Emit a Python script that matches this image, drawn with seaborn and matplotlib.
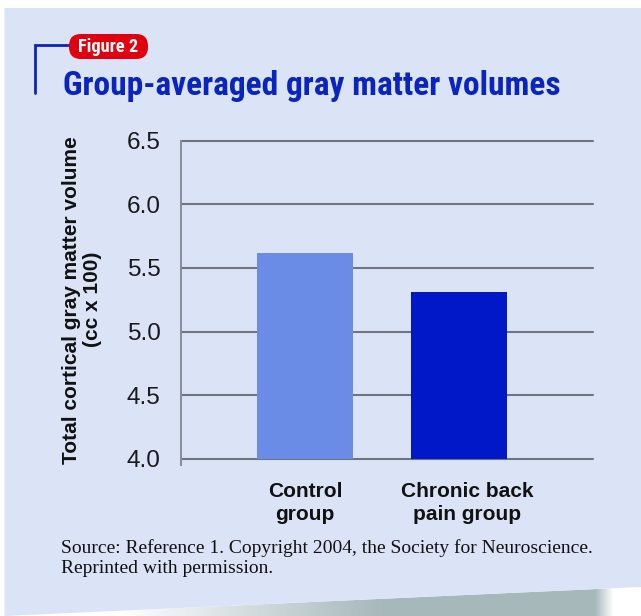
import numpy as np
import pandas as pd
import matplotlib
matplotlib.use("Agg")
import matplotlib.pyplot as plt
import matplotlib.transforms as mtransforms
from matplotlib.patches import Polygon, FancyBboxPatch
import seaborn as sns

# ---- data ----
groups = ["Control\ngroup", "Chronic back\npain group"]
volumes = [5.62, 5.31]
yticks = [4.0, 4.5, 5.0, 5.5, 6.0, 6.5]
bar_colors = ["#6a8ce6", "#0018c8"]

title = "Group-averaged gray matter volumes"
badge = "Figure 2"
ylabel = "Total cortical gray matter volume\n(cc x 100)"
source1 = "Source: Reference 1. Copyright 2004, the Society for Neuroscience."
source2 = "Reprinted with permission."

sns.set_theme(style="white")
plt.rcParams["font.family"] = ["Liberation Sans", "DejaVu Sans"]

COND = ["Roboto Condensed", "DejaVu Sans Condensed", "Liberation Sans", "DejaVu Sans"]

W, H = 641, 616
fig = plt.figure(figsize=(W / 100, H / 100), dpi=100, facecolor="white")

PANEL = "#dbe3f6"
BLUE = "#0a24c0"

# ---- background panel & shadow (pixel coordinates) ----
bg = fig.add_axes([0, 0, 1, 1], zorder=-10)
bg.set_xlim(0, W)
bg.set_ylim(H, 0)
bg.axis("off")

xs = np.linspace(0, W, 400)
alpha = np.clip((xs - 120) / 260, 0, 1) * np.clip((614 - xs) / 18, 0, 1)
img = np.zeros((1, len(xs), 4))
img[..., 0] = 0.655
img[..., 1] = 0.722
img[..., 2] = 0.737
img[..., 3] = alpha
im = bg.imshow(img, extent=(0, W, H, 580), aspect="auto", interpolation="bilinear", zorder=0)
shadow_clip = Polygon([(4.5, 616), (W, 587), (W, H), (4.5, H)], closed=True, transform=bg.transData)
im.set_clip_path(shadow_clip)

panel = Polygon([(4.5, 8), (W, 8), (W, 587), (4.5, 616)], closed=True,
                facecolor=PANEL, edgecolor="none", zorder=1)
bg.add_patch(panel)

# bracket line
bg.plot([35, 35, 72], [93, 45, 45], color=BLUE, lw=2, solid_joinstyle="miter", zorder=2)
# red badge
pill = FancyBboxPatch((69, 34), 79, 25, boxstyle="round,pad=0,rounding_size=12",
                      facecolor="#e0000e", edgecolor="none", zorder=3)
bg.add_patch(pill)
bg.text(108.5, 47, badge, color="white", fontsize=13.2, fontweight="bold",
        family=COND, ha="center", va="center", zorder=4)

# title
fig.text(63 / W, 1 - 95 / H, title, color=BLUE, fontsize=24, fontweight="bold",
         family=COND, ha="left", va="baseline")

# source
fig.text(61 / W, 1 - 553 / H, source1, color="#111111", fontsize=14,
         family=["Liberation Serif", "DejaVu Serif"], ha="left", va="baseline")
fig.text(61 / W, 1 - 573 / H, source2, color="#111111", fontsize=14,
         family=["Liberation Serif", "DejaVu Serif"], ha="left", va="baseline")

# ---- chart ----
ax = fig.add_axes([181 / W, 1 - 458.7 / H, (593 - 181) / W, (458.7 - 140.7) / H])
ax.set_facecolor("none")

df = pd.DataFrame({"group": groups, "volume": volumes})
sns.barplot(data=df, x="group", y="volume", hue="group", palette=bar_colors,
            legend=False, width=0.623, saturation=1, ax=ax, zorder=3,
            linewidth=0, edgecolor="none")

ax.set_ylim(4.0, 6.5)
ax.set_xlim(-0.805, 1.870)
ax.set_yticks(yticks)
ax.set_yticklabels([f"{t:.1f}" for t in yticks])

GRID = "#6e7480"
ax.yaxis.grid(True, color=GRID, lw=1.5, zorder=1)
for gl in ax.get_ygridlines():
    gl.set_clip_on(False)
ax.set_axisbelow(True)

for s in ["top", "right", "bottom"]:
    ax.spines[s].set_visible(False)
ax.spines["left"].set_color("#8a8f9a")
ax.spines["left"].set_linewidth(1.5)
ax.spines["left"].set_bounds(3.95, 6.5)

ax.tick_params(axis="y", length=7.3, width=1.5, color=GRID, pad=7.5,
               labelsize=17.6, labelcolor="#1a1a1a")
ax.tick_params(axis="x", length=0, pad=16.5, labelsize=15, labelcolor="#111111")
for lab in ax.get_xticklabels():
    lab.set_fontweight("bold")
    lab.set_linespacing(1.3)
labs = ax.get_xticklabels()
labs[1].set_transform(labs[1].get_transform() +
                      mtransforms.ScaledTranslation(8 / 100, 0, fig.dpi_scale_trans))

ax.set_xlabel("")
ax.set_ylabel(ylabel, fontsize=15, fontweight="bold", color="#111111",
              linespacing=1.1)
ax.yaxis.set_label_coords(-(181 - 102) / (593 - 181), 0.5)

fig.savefig("out.png", dpi=100, facecolor="white")
